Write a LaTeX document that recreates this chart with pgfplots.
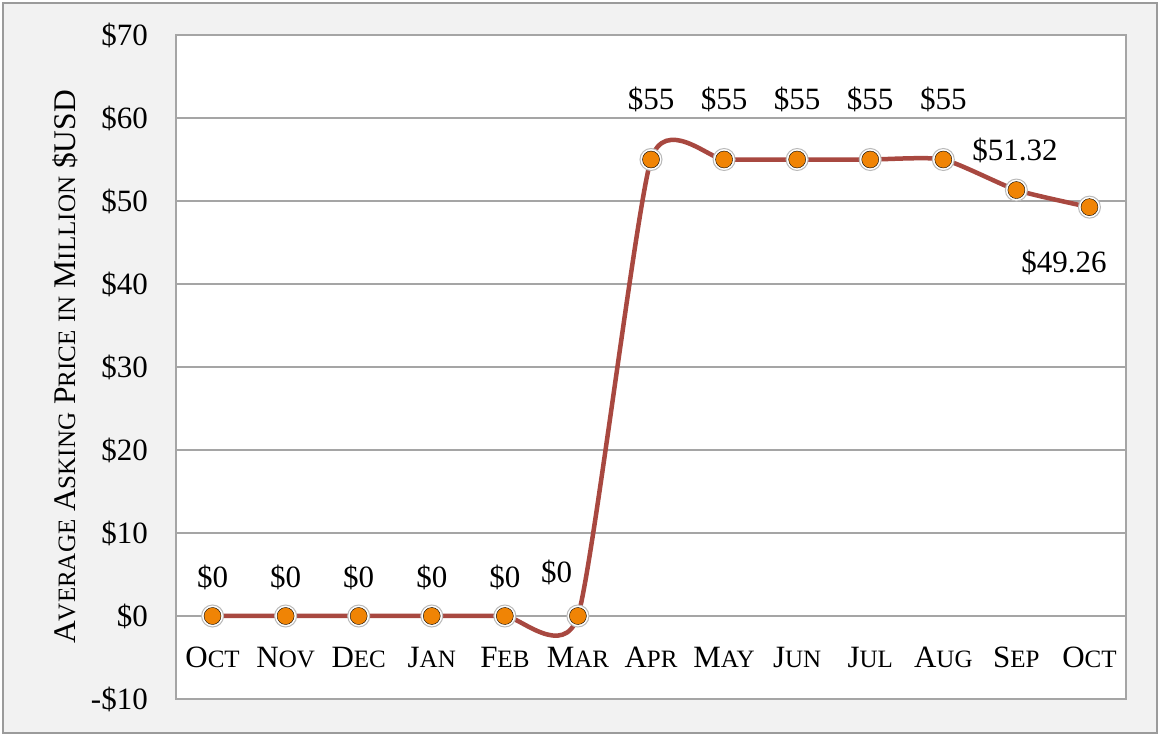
\documentclass[border=0pt]{standalone}
\usepackage{fontspec}
\setmainfont{Liberation Serif}
\usepackage{pgfplots}
\usepackage{pgfplotstable}
\pgfplotsset{compat=1.18}
\definecolor{linered}{RGB}{168,72,64}
\definecolor{framegray}{RGB}{155,155,155}
\definecolor{gridgray}{RGB}{165,165,165}
\definecolor{ballorange}{RGB}{240,132,5}
\newcommand\SC[2]{#1{\fontsize{25}{25}\selectfont #2}}
\pgfplotstableread{
x y
0.5 0
1.5 0
2.5 0
3.5 0
4.5 0
5.5 0
6.5 55
7.5 55
8.5 55
9.5 55
10.5 55
11.5 51.32
12.5 49.26
}\pricedata
\begin{document}
\begin{tikzpicture}
\useasboundingbox (-176pt,-37pt) rectangle (983pt,699pt);
\draw[framegray, line width=2pt, fill=black!5] (-173pt,-34pt) rectangle (981pt,696pt);
\begin{axis}[
  at={(0pt,0pt)}, anchor=south west,
  scale only axis, width=950pt, height=664pt,
  xmin=0, xmax=13, ymin=-10, ymax=70,
  axis background/.style={fill=white},
  axis line style={gridgray, line width=1.2pt},
  ymajorgrids, grid style={gridgray, line width=1.4pt},
  major tick length=0pt,
  tick style={draw=none},
  ytick={-10,0,10,20,30,40,50,60,70},
  yticklabels={-\$10,\$0,\$10,\$20,\$30,\$40,\$50,\$60,\$70},
  xtick={0.5,1.5,2.5,3.5,4.5,5.5,6.5,7.5,8.5,9.5,10.5,11.5,12.5},
  xticklabels={\SC{O}{CT},\SC{N}{OV},\SC{D}{EC},\SC{J}{AN},\SC{F}{EB},\SC{M}{AR},\SC{A}{PR},\SC{M}{AY},\SC{J}{UN},\SC{J}{UL},\SC{A}{UG},\SC{S}{EP},\SC{O}{CT}},
  every tick label/.append style={font=\fontsize{31}{36}\selectfont},
  yticklabel style={anchor=east, inner sep=0pt, xshift=-28pt},
  xticklabel style={anchor=center, yshift=41.5pt},
  ylabel={\SC{A}{VERAGE} \SC{A}{SKING} \SC{P}{RICE} {\fontsize{25}{25}\selectfont IN} \SC{M}{ILLION} \$USD},
  every axis y label/.style={at={(axis description cs:-0.1168,0.5)}, anchor=center, rotate=90, font=\fontsize{31.5}{36}\selectfont},
  clip=false,
]
\addplot[linered, line width=4.5pt, smooth, tension=0.35] table[x=x,y=y] {\pricedata};
\addplot[only marks, mark=*, mark size=11pt, mark options={fill=white, draw=gray!55, line width=1pt}] table[x=x,y=y] {\pricedata};
\addplot[only marks, mark=*, mark size=8.5pt, mark options={draw=none, fill=ballorange}] table[x=x,y=y] {\pricedata};
\begin{scope}[every node/.style={font=\fontsize{31}{36}\selectfont}]
\node at (axis cs:0.5,4.7) {\$0};
\node at (axis cs:1.5,4.7) {\$0};
\node at (axis cs:2.5,4.7) {\$0};
\node at (axis cs:3.5,4.7) {\$0};
\node at (axis cs:4.5,4.7) {\$0};
\node at (axis cs:5.21,5.2) {\$0};
\node at (axis cs:6.5,62.2) {\$55};
\node at (axis cs:7.5,62.2) {\$55};
\node at (axis cs:8.5,62.2) {\$55};
\node at (axis cs:9.5,62.2) {\$55};
\node at (axis cs:10.5,62.2) {\$55};
\node at (axis cs:11.48,56.1) {\$51.32};
\node at (axis cs:12.15,42.6) {\$49.26};
\end{scope}
\end{axis}
\end{tikzpicture}
\end{document}
